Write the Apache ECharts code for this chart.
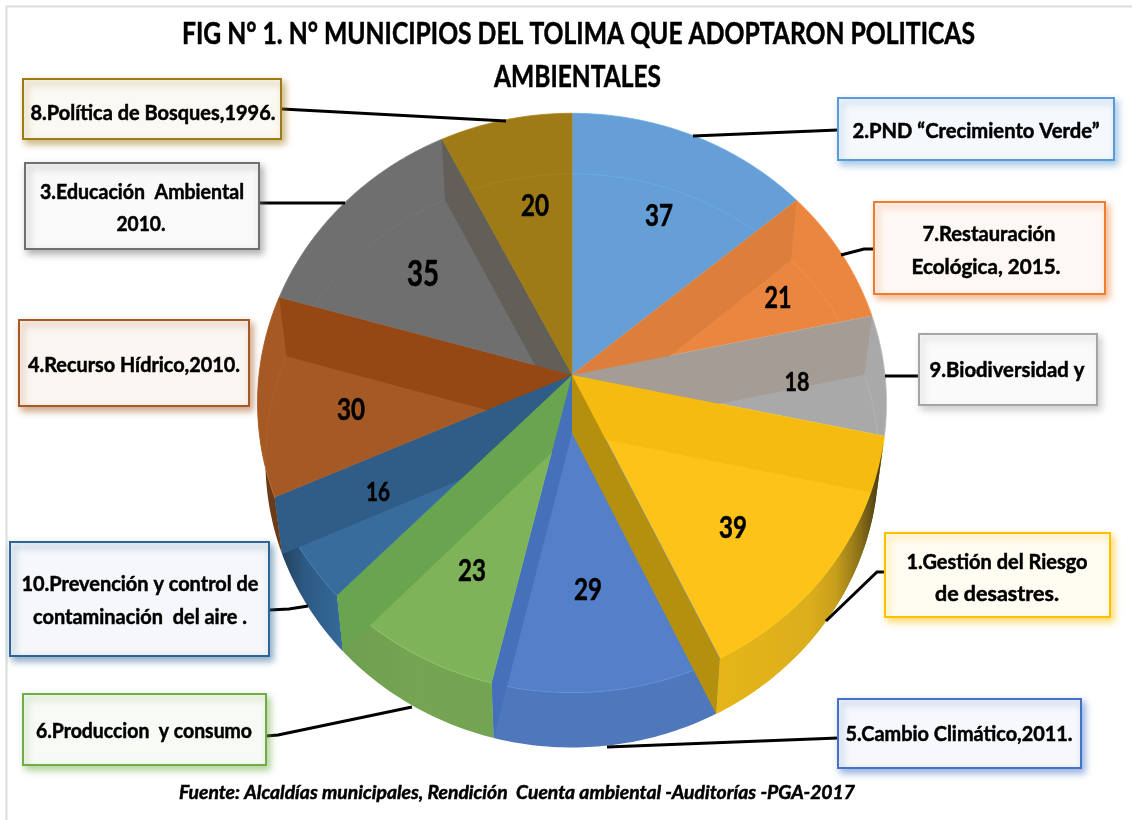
<!DOCTYPE html>
<html>
<head>
<meta charset="utf-8">
<style>html,body{margin:0;padding:0;background:#fff}#c{width:1132px;height:820px}</style>
<script src="https://cdn.jsdelivr.net/npm/echarts@6/dist/echarts.min.js"></script>
</head>
<body>
<div id="c"></div>
<script>
// ---- data (clockwise from 12 o'clock) ----
const categories = ['2.PND “Crecimiento Verde”','7.Restauración Ecológica, 2015.','9.Biodiversidad y','1.Gestión del Riesgo de desastres.','5.Cambio Climático,2011.','6.Produccion y consumo','10.Prevención y control de contaminación del aire .','4.Recurso Hídrico,2010.','3.Educación Ambiental 2010.','8.Política de Bosques,1996.'];
const values = [37, 21, 18, 39, 29, 23, 16, 30, 35, 20];
const titleLines = ['FIG N° 1. N° MUNICIPIOS DEL TOLIMA QUE ADOPTARON POLITICAS', 'AMBIENTALES'];
const sourceNote = 'Fuente: Alcaldías municipales, Rendición  Cuenta ambiental -Auditorías -PGA-2017';

// ---- styles ----
const faceColors = ['#669fd6','#eb8640','#a9a9a9','#fec319','#5480c9','#7fb35a','#376c9c','#a55a26','#6f6f6f','#9e7b17'];
const rayColors  = ['#dc7e3c','#a59c95','#f5bb10','#b5900f','#4471b9','#69a44e','#2f5d87','#964814','#615f58',null];
const rayOrder = [8,7,6,5,4,0,1,2,3];
const Grad = (x0,x1,stops)=>new echarts.graphic.LinearGradient(x0,0,x1,0,stops.map(c=>({offset:c[0],color:c[1]})),true);
const wallFill = {
  3: Grad(716,886,[[0,'#e6b618'],[.55,'#dcae1c'],[.7,'#c9a01c'],[.85,'#8a6f18'],[.95,'#4d4014'],[1,'#3d3518']]),
  4: '#4f78bc',
  5: Grad(343,494,[[0,'#6f9f50'],[.5,'#74a552'],[1,'#72a451']]),
  6: Grad(343,268,[[0,'#356a99'],[.5,'#2d5a85'],[1,'#1e3347']]),
  7: '#6b3a16'
};

// ---- perspective geometry of the disc ----
const AX=572, AY=375, BY=433, R=313, S=287, K=0.0965, SX=0.975, SY=0.99;
const total = values.reduce((a,b)=>a+b,0);
const cum = values.reduce((a,v)=>{a.push(a[a.length-1]+v);return a;},[0]);
const ang = i => cum[i]/total*2*Math.PI;
function topPt(t){const u=Math.sin(t),v=Math.cos(t),d=1+K*v;return [AX+R*u/d,AY-S*v/d];}
function botPt(t){const u=Math.sin(t),v=Math.cos(t),d=1+K*v;return [AX+SX*R*u/d,BY-SY*S*v/d];}
function arc(fn,a,b){const n=Math.max(2,Math.ceil((b-a)/0.015)),p=[];for(let j=0;j<=n;j++)p.push(fn(a+(b-a)*j/n));return p;}
function inside(p,poly){let c=false;for(let i=0,j=poly.length-1;i<poly.length;j=i++){const a=poly[i],b=poly[j];if((a[1]>p[1])!==(b[1]>p[1])&&p[0]<(b[0]-a[0])*(p[1]-a[1])/(b[1]-a[1])+a[0])c=!c;}return c;}
const facePoly = i => [[AX,AY]].concat(arc(topPt,ang(i),ang(i+1)));
const wallShape = i => {const a=ang(i),b=ang(i+1);return {type:'polygon',shape:{points:arc(topPt,a,b).concat(arc(botPt,a,b).reverse())},style:{fill:wallFill[i]}};};

// ---- fitted text helper ----
const ctx = document.createElement('canvas').getContext('2d');
function fit(text,cx,cy,width,size,extra){
  const font=(extra||'')+' bold '+size+'px Lato';
  ctx.font=font;
  return {type:'text',x:cx,y:cy,scaleX:width/ctx.measureText(text).width,z:20,
    style:{text:text,font:font,fill:'#000',stroke:'#000',lineWidth:.5,align:'center',verticalAlign:'middle'}};
}

// ---- annotation layout ----
const boxes = [
  {x:23,y:79,w:258,h:60,c:'#9e7b17',f:'#fbf9f3'},
  {x:25,y:163,w:234,h:86,c:'#6f6f6f',f:'#f9f9f9'},
  {x:19,y:320,w:230,h:86,c:'#a55a26',f:'#fbf6f2'},
  {x:10,y:542,w:259,h:114,c:'#2e6496',f:'#f5f7fa'},
  {x:23,y:694,w:243,h:71,c:'#70ad47',f:'#f8faf6'},
  {x:838,y:98,w:276,h:62,c:'#5b9bd5',f:'#f5f8fc'},
  {x:874,y:202,w:231,h:92,c:'#ed7d31',f:'#fef8f4'},
  {x:919,y:334,w:178,h:71,c:'#a5a5a5',f:'#fafafa'},
  {x:885,y:533,w:225,h:84,c:'#ffc000',f:'#fffcf2'},
  {x:838,y:699,w:243,h:69,c:'#4472c4',f:'#f6f8fc'}
];
const leaders = [
  [[282,109],[506,121]],
  [[259,203],[345,203]],
  [[269,610],[289,609],[308,606]],
  [[266,736],[278,735],[412,707]],
  [[838,130],[693,136]],
  [[874,249],[864,249],[841,255]],
  [[919,376],[885,376]],
  [[885,572],[877,572],[826,621]],
  [[838,738],[607,747]]
];
const boxTexts = [
  ['8.Política de Bosques,1996.',153,113,245],
  ['3.Educación  Ambiental',142,192,204],
  ['2010.',141,224,49],
  ['4.Recurso Hídrico,2010.',134,365,212],
  ['10.Prevención y control de',140,584,237],
  ['contaminación  del aire .',140,617,214],
  ['6.Produccion  y consumo',144,731,216],
  ['2.PND “Crecimiento Verde”',976,131,247],
  ['7.Restauración',989,234,133],
  ['Ecológica, 2015.',986,267,149],
  ['9.Biodiversidad y',1007,370,155],
  ['1.Gestión del Riesgo',997,562,181],
  ['de desastres.',997,594,124],
  ['5.Cambio Climático,2011.',959,734,227]
];
const valueLabels = [
  {x:659,y:216,w:28,s:30},{x:778,y:298,w:27,s:30},{x:797,y:382,w:25,s:27},{x:733,y:528,w:28,s:30},
  {x:588,y:590,w:28,s:30},{x:472,y:571,w:28,s:30},{x:378,y:492,w:24,s:27},{x:351,y:410,w:28,s:30},
  {x:423,y:274,w:32,s:36},{x:535,y:206,w:28,s:30}
];

const seriesData = values.map(v=>[v]);
const layer = (z,render)=>({type:'custom',coordinateSystem:'none',data:seriesData,z:z,silent:true,animation:false,clip:false,renderItem:render});

const option = {
  backgroundColor:'#fff',
  animation:false,
  graphic:{elements:[
    {type:'polyline',shape:{points:[[6.5,820],[6.5,6.5],[1132,6.5]]},style:{fill:'none',stroke:'#dcdcdc',lineWidth:2},z:0,silent:true},
    ...leaders.map(p=>({type:'polyline',shape:{points:p},style:{fill:'none',stroke:'#000',lineWidth:3},z:15,silent:true})),
    ...boxes.map(b=>({type:'rect',shape:{x:b.x,y:b.y,width:b.w,height:b.h},z:16,silent:true,
      style:{fill:b.f,stroke:b.c,lineWidth:2,shadowBlur:7,shadowOffsetX:3,shadowOffsetY:4,shadowColor:echarts.color.modifyAlpha(b.c,.55)}})),
    fit(titleLines[0],578.5,34,793,30),
    fit(titleLines[1],577.5,77,167,30),
    ...boxTexts.map(t=>fit(t[0],t[1],t[2],t[3],21)),
    fit(sourceNote,517,793,676,19,'italic')
  ]},
  series:[
    layer(2,(p,api)=>{
      const i=p.dataIndex;
      return wallFill[i] ? wallShape(i) : {type:'group',children:[]};
    }),
    layer(3,(p,api)=>{
      const i=p.dataIndex;
      return {type:'polygon',shape:{points:facePoly(i)},style:{fill:faceColors[i],stroke:echarts.color.lift(faceColors[i],-.1),lineWidth:.8}};
    }),
    layer(4,(p,api)=>{
      const i=p.dataIndex;
      if(i>=3&&i<=6) return {type:'group',children:[]};
      const poly=facePoly(i), runs=[]; let run=[];
      arc(botPt,0,2*Math.PI).forEach(pt=>{
        if(inside(pt,poly)) run.push(pt);
        else { if(run.length>1) runs.push(run); run=[]; }
      });
      if(run.length>1) runs.push(run);
      return {type:'group',children:runs.map(r=>({type:'polyline',shape:{points:r},style:{fill:'none',stroke:echarts.color.lift(faceColors[i],-.07),lineWidth:1}}))};
    }),
    {...layer(5,(p,api)=>{
      const j=rayOrder[p.dataIndex], t=ang(j+1);
      const quad={type:'polygon',shape:{points:[[AX,AY],topPt(t),botPt(t),[AX,BY]]},style:{fill:rayColors[j]}};
      // the yellow wedge's outer wall closes over the end of the band that runs along its upper edge
      return j===2 ? {type:'group',children:[quad,wallShape(3)]} : quad;
    }),data:rayOrder.map(j=>[values[j]])},
    layer(10,(p,api)=>{
      const l=valueLabels[p.dataIndex];
      return fit(String(api.value(0)),l.x,l.y,l.w,l.s);
    })
  ]
};
const chart = echarts.init(document.getElementById('c'));
chart.setOption(option);
</script>
</body>
</html>
